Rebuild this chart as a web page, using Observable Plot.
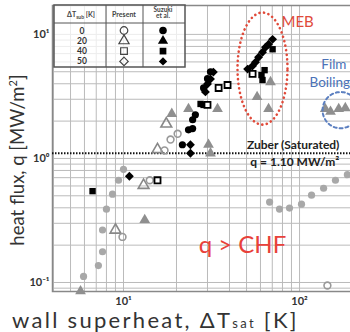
<!DOCTYPE html>
<html>
<head>
<meta charset="utf-8">
<script src="https://cdn.jsdelivr.net/npm/d3@7"></script>
<script src="https://cdn.jsdelivr.net/npm/@observablehq/plot@0.6"></script>
<style>
  html, body { margin: 0; padding: 0; background: #fff; }
  body { width: 350px; height: 332px; overflow: hidden; position: relative; font-family: Lato, "Open Sans", sans-serif; }
  #chart { position: absolute; left: 0; top: 0; width: 360px; }
  #chart svg { max-width: none !important; }
  .lab { position: absolute; color: #333; white-space: nowrap; line-height: 1; }
</style>
</head>
<body>
<div id="chart"></div>
<div class="lab" id="xlab" style="left:12px; top:309px; font-size:22px; letter-spacing:2.3px;">wall superheat, ΔT<span style="font-size:13px;">sat</span> [K]</div>
<div class="lab" id="ylab" style="left:17px; top:160px; font-size:18.5px; transform: translate(-50%,-50%) rotate(-90deg);">heat flux, q [MW/m<sup style="font-size:11px;">2</sup>]</div>
<svg id="legend" width="350" height="80" style="position:absolute; left:0; top:0; overflow:visible"></svg>
<script>
// ---------- data (ΔT_sat [K], q [MW/m²]) ----------
// gray filled circles (boiling curve)
const grayDotX = [5.93, 7.2, 7.6, 7.6, 8.0, 8.66, 9.37, 10.0, 67.6, 76.9, 87.7, 102.6, 117, 137, 160, 187];
const grayDotQ = [0.112, 0.137, 0.177, 0.265, 0.39, 0.515, 0.667, 0.817, 0.445, 0.391, 0.398, 0.428, 0.506, 0.575, 0.667, 0.74];
// gray filled triangles
const grayTriX = [5.7, 13.2, 18.8, 23.4, 34.2, 30.4, 31.2, 68.4, 57.4, 66.7, 140, 150, 167, 182];
const grayTriQ = [0.085, 0.319, 2.29, 2.51, 2.51, 1.29, 1.10, 4.13, 3.13, 2.51, 2.51, 2.38, 2.51, 2.55];
// present: open triangles / open circles
const openTriX = [9.0, 13.0, 15.6, 17.5];
const openTriQ = [0.265, 0.608, 1.18, 1.9];
const openCircX = [9.87, 14.1, 17.1, 18.5, 20.3, 144];
const openCircQ = [0.233, 0.667, 1.16, 1.42, 1.58, 0.0946];
// Suzuki et al.: filled circles, squares, diamonds
const blackCircX = [25.6, 24.7, 24.7, 23.4, 21.6, 28.5, 30.0, 31.2];
const blackCircQ = [2.25, 2.05, 1.74, 1.70, 1.29, 3.70, 4.40, 5.00];
const blackSqX = [6.67, 70.3, 63.3, 60.8, 61.6, 27.4, 28.5];
const blackSqQ = [0.545, 7.59, 5.15, 4.70, 4.29, 2.75, 2.70];
const openSqX = [15.6, 34.7, 39.0, 30.0, 54.1];
const openSqQ = [0.667, 3.70, 3.91, 2.70, 4.80];
const diamondX = [10.8, 70.3, 66.7, 64.1, 61.6, 58.5, 56.2, 54.0, 50.7, 32.4, 31.2, 30.0, 29.2, 24.0, 24.0];
const diamondQ = [0.718, 9.12, 8.32, 7.87, 7.18, 6.55, 5.97, 5.55, 5.25, 4.97, 4.37, 3.98, 3.44, 1.29, 1.10];
// axis ticks
const xTicks = [10, 100];
const xTickLabels = ["10¹", "10²"];
const yTicks = [0.1, 1, 10];
const yTickLabels = ["10⁻¹", "10⁰", "10¹"];
const xGrid = [4,5,6,7,8,9,10,20,30,40,50,60,70,80,90,100,200];
const yGrid = [0.09,0.1,0.2,0.3,0.4,0.5,0.6,0.7,0.8,0.9,1,2,3,4,5,6,7,8,9,10];
// Zuber limit
const zuberQ = 1.10;
// legend rows
const legendRows = ["0", "20", "40", "50"];
const presentSymbols = ["circle", "triangle", "square", "diamond2"];

const pts = (xs, qs) => xs.map((x, i) => ({x, q: qs[i]}));
const ellipse = (cx, cq, rx, rq) => d3.range(0, 361, 4).map(a => {
  const t = a * Math.PI / 180;
  return {x: 10 ** (Math.log10(cx) + rx * Math.cos(t)), q: 10 ** (Math.log10(cq) + rq * Math.sin(t))};
});

const chart = Plot.plot({
  width: 360, height: 332,
  marginLeft: 52, marginRight: 0, marginTop: 5, marginBottom: 41,
  x: {type: "log", domain: [3.95, 222], axis: null},
  y: {type: "log", domain: [0.0846, 17.1], axis: null},
  style: {fontFamily: "Lato, sans-serif", background: "transparent", color: "#333", maxWidth: "none"},
  marks: [
    Plot.gridX(xGrid, {stroke: "#bbb", strokeOpacity: 1}),
    Plot.gridY(yGrid, {stroke: "#bbb", strokeOpacity: 1}),
    Plot.frame({stroke: "#888", strokeWidth: 1.5}),
    Plot.text(xTicks, {x: d => d, frameAnchor: "bottom", dy: 13, text: (d, i) => xTickLabels[i], fontSize: 11, fontWeight: "bold", fill: "#333"}),
    Plot.text(yTicks, {y: d => d, frameAnchor: "left", dx: -3, textAnchor: "end", text: (d, i) => yTickLabels[i], fontSize: 11, fontWeight: "bold", fill: "#333"}),
    Plot.ruleY([zuberQ], {stroke: "#111", strokeWidth: 2, strokeDasharray: "1.5,1.5"}),
    Plot.text(["Zuber (Saturated)"], {x: 92, y: zuberQ, dy: -8, fontSize: 12, fontWeight: "bold", fill: "#222"}),
    Plot.text(["q = 1.10 MW/m²"], {x: 94, y: zuberQ, dy: 9, fontSize: 12, fontWeight: "bold", fill: "#222"}),
    Plot.dot(pts(grayDotX, grayDotQ), {x: "x", y: "q", r: 3.6, fill: "#a8a8a8", stroke: "none"}),
    Plot.dot(pts(grayTriX, grayTriQ), {x: "x", y: "q", symbol: "triangle", r: 4, fill: "#8f8f8f", stroke: "none"}),
    Plot.dot(pts(openTriX, openTriQ), {x: "x", y: "q", symbol: "triangle", r: 4, fill: "none", stroke: "#888", strokeWidth: 1.6}),
    Plot.dot(pts(openCircX, openCircQ), {x: "x", y: "q", r: 3.4, fill: "none", stroke: "#999", strokeWidth: 1.6}),
    Plot.dot(pts(blackCircX, blackCircQ), {x: "x", y: "q", r: 3.6, fill: "#000", stroke: "none"}),
    Plot.dot(pts(blackSqX, blackSqQ), {x: "x", y: "q", symbol: "square", r: 3.6, fill: "#000", stroke: "none"}),
    Plot.dot(pts(openSqX, openSqQ), {x: "x", y: "q", symbol: "square", r: 3.4, fill: "#fff", stroke: "#000", strokeWidth: 1.8}),
    Plot.dot(pts(diamondX, diamondQ), {x: "x", y: "q", symbol: "diamond2", r: 4, fill: "#000", stroke: "none"}),
    Plot.line(ellipse(61.6, 5.3, 0.142, 0.452), {x: "x", y: "q", stroke: "#e04a3a", strokeWidth: 2.6, strokeDasharray: "0.1,4.5", strokeLinecap: "round"}),
    Plot.line(ellipse(171, 2.45, 0.102, 0.146), {x: "x", y: "q", stroke: "#5b7fc0", strokeWidth: 2, strokeDasharray: "3,3"}),
    Plot.text(["MEB"], {x: 97.5, y: 12.6, fontSize: 15, fill: "#e04a3a", textAnchor: "middle"}),
    Plot.text(["Film"], {x: 133, y: 5.7, fontSize: 13.5, fill: "#4a72b8", textAnchor: "start"}),
    Plot.text(["Boiling"], {x: 114, y: 4.1, fontSize: 13.5, fill: "#4a72b8", textAnchor: "start"}),
    Plot.text(["q > CHF"], {x: 47.4, y: 0.2, fontSize: 24, fill: "#e8413a", textAnchor: "middle"})
  ]
});
document.getElementById("chart").appendChild(chart);

// ---------- legend box ----------
const lg = d3.select("#legend");
const L = 54, T = 5, W = 131, H = 62;
lg.append("rect").attr("x", L).attr("y", T).attr("width", W).attr("height", H)
  .attr("fill", "rgba(255,255,255,0.72)").attr("stroke", "#555").attr("stroke-width", 1.5);
lg.append("line").attr("x1", L).attr("x2", L + W).attr("y1", 23).attr("y2", 23).attr("stroke", "#555");
[106, 143].forEach(x => lg.append("line").attr("x1", x).attr("x2", x).attr("y1", T).attr("y2", T + H).attr("stroke", "#555"));
const hdr = lg.append("text").attr("x", 81).attr("y", 17).attr("text-anchor", "middle")
  .attr("font-size", 7).attr("font-weight", "bold").attr("fill", "#444").attr("font-family", "Lato, sans-serif");
hdr.append("tspan").text("ΔT");
hdr.append("tspan").attr("font-size", 5).attr("dy", 1.5).text("sub");
hdr.append("tspan").attr("dy", -1.5).text(" [K]");
lg.append("text").attr("x", 124).attr("y", 17).attr("text-anchor", "middle").attr("font-size", 7)
  .attr("font-weight", "bold").attr("fill", "#444").attr("font-family", "Lato, sans-serif").text("Present");
["Suzuki", "et al."].forEach((t, i) => lg.append("text").attr("x", 163).attr("y", 12 + i * 6).attr("text-anchor", "middle")
  .attr("font-size", 6.5).attr("font-weight", "bold").attr("fill", "#444").attr("font-family", "Lato, sans-serif").text(t));
const symMap = {circle: d3.symbolCircle, triangle: d3.symbolTriangle, square: d3.symbolSquare, diamond2: d3.symbolDiamond2};
legendRows.forEach((r, i) => {
  const y = 30.5 + i * 10.3;
  lg.append("text").attr("x", 82).attr("y", y + 3).attr("text-anchor", "middle").attr("font-size", 8.5)
    .attr("font-weight", "bold").attr("fill", "#333").attr("font-family", "Lato, sans-serif").text(r);
  const s = symMap[presentSymbols[i]];
  lg.append("path").attr("d", d3.symbol(s, 45)()).attr("transform", `translate(124,${y})`)
    .attr("fill", "none").attr("stroke", "#444").attr("stroke-width", 1.2);
  lg.append("path").attr("d", d3.symbol(s, 45)()).attr("transform", `translate(163,${y})`).attr("fill", "#000");
});
</script>
</body>
</html>
